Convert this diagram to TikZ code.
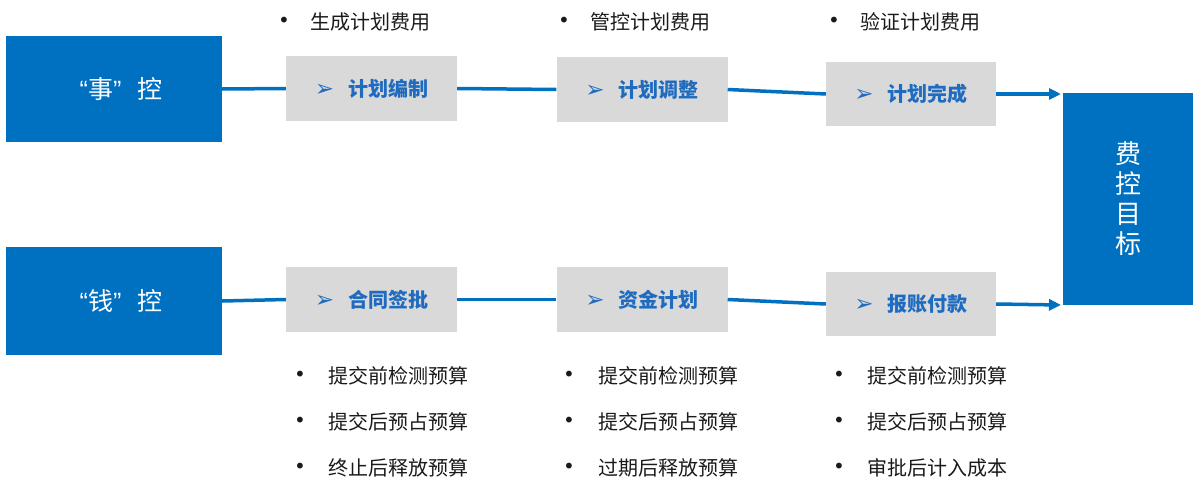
\documentclass[tikz,border=0pt]{standalone}
\usepackage{fontspec}
\setmainfont{Noto Sans CJK SC}
\newfontfamily\dejavu{DejaVu Sans}
\newfontfamily\latin{Liberation Sans}
\usetikzlibrary{arrows.meta}
\definecolor{mblue}{HTML}{0070C0}
\definecolor{tblue}{HTML}{1F6BC0}
\definecolor{boxgrey}{HTML}{D9D9D9}
\definecolor{txt}{HTML}{1A1A1A}
\tikzset{
  bluebox/.style={fill=mblue, draw=none, text=white, inner sep=0pt, font=\fontsize{25}{28}\selectfont},
  greybox/.style={fill=boxgrey, draw=none, text=tblue, inner sep=0pt, minimum width=171pt, minimum height=65pt, font=\fontsize{20}{24}\selectfont\bfseries},
  bul/.style={inner sep=0pt, text=txt, font=\dejavu\fontsize{20}{22}\selectfont},
  itm/.style={inner sep=0pt, anchor=west, text=txt, font=\fontsize{20}{24}\selectfont},
  conn/.style={draw=mblue, line width=3.5pt},
  arr/.style={draw=mblue, line width=3.5pt, -{Triangle[length=12pt,width=11pt]}},
}
\newcommand{\garr}{{\dejavu\fontsize{23}{24}\selectfont ➢}\hspace{14pt}}
\newcommand{\myLq}{{\latin “}}
\newcommand{\myRq}{{\latin ”}}
\begin{document}
\begin{tikzpicture}[x=1pt,y=-1pt]
\useasboundingbox (0,0) rectangle (1201,490);
% main boxes
\node[bluebox, minimum width=216pt, minimum height=106pt] (shi) at (114,89) {\hspace*{14pt}\myLq 事\myRq\hspace{16pt}控};
\node[bluebox, minimum width=216pt, minimum height=108pt] (qian) at (114,301) {\hspace*{14pt}\myLq 钱\myRq\hspace{16pt}控};
\node[bluebox, minimum width=130pt, minimum height=212pt, align=center, font=\fontsize{26}{30}\selectfont] (goal) at (1128,199) {费\\控\\目\\标};
% process boxes
\node[greybox] (p1) at (371.5,88.5) {\garr 计划编制};
\node[greybox] (p2) at (642,89.5) {\garr 计划调整};
\node[greybox, minimum width=170pt, minimum height=64pt] (p3) at (911,94) {\garr 计划完成};
\node[greybox] (m1) at (371.5,299.5) {\garr 合同签批};
\node[greybox] (m2) at (642,299.5) {\garr 资金计划};
\node[greybox, minimum width=170pt, minimum height=64pt] (m3) at (911,304) {\garr 报账付款};
% arrow ends
\coordinate (t1) at (1061,94);
\coordinate (t2) at (1061,305);
% connectors
\draw[conn] (shi.east) -- (p1.west);
\draw[conn] (p1.east) -- (p2.west);
\draw[conn] (p2.east) -- (p3.west);
\draw[arr] (p3.east) -- (t1);
\draw[conn] (qian.east) -- (m1.west);
\draw[conn] (m1.east) -- (m2.west);
\draw[conn] (m2.east) -- (m3.west);
\draw[arr] (m3.east) -- (t2);
% top bullets
\node[bul] (tb1) at (284,22) {•};
\node[itm] (ti1) at (310,22) {生成计划费用};
\node[bul] (tb2) at (564,22) {•};
\node[itm] (ti2) at (590,22) {管控计划费用};
\node[bul] (tb3) at (834,22) {•};
\node[itm] (ti3) at (860,22) {验证计划费用};
% bottom bullets column 1
\node[bul] (b11) at (300,376) {•};
\node[itm] (i11) at (328,376) {提交前检测预算};
\node[bul] (b12) at (300,422) {•};
\node[itm] (i12) at (328,422) {提交后预占预算};
\node[bul] (b13) at (300,468) {•};
\node[itm] (i13) at (328,468) {终止后释放预算};
% column 2
\node[bul] (b21) at (569,376) {•};
\node[itm] (i21) at (598,376) {提交前检测预算};
\node[bul] (b22) at (569,422) {•};
\node[itm] (i22) at (598,422) {提交后预占预算};
\node[bul] (b23) at (569,468) {•};
\node[itm] (i23) at (598,468) {过期后释放预算};
% column 3
\node[bul] (b31) at (839,376) {•};
\node[itm] (i31) at (867,376) {提交前检测预算};
\node[bul] (b32) at (839,422) {•};
\node[itm] (i32) at (867,422) {提交后预占预算};
\node[bul] (b33) at (839,468) {•};
\node[itm] (i33) at (867,468) {审批后计入成本};
\end{tikzpicture}
\end{document}
